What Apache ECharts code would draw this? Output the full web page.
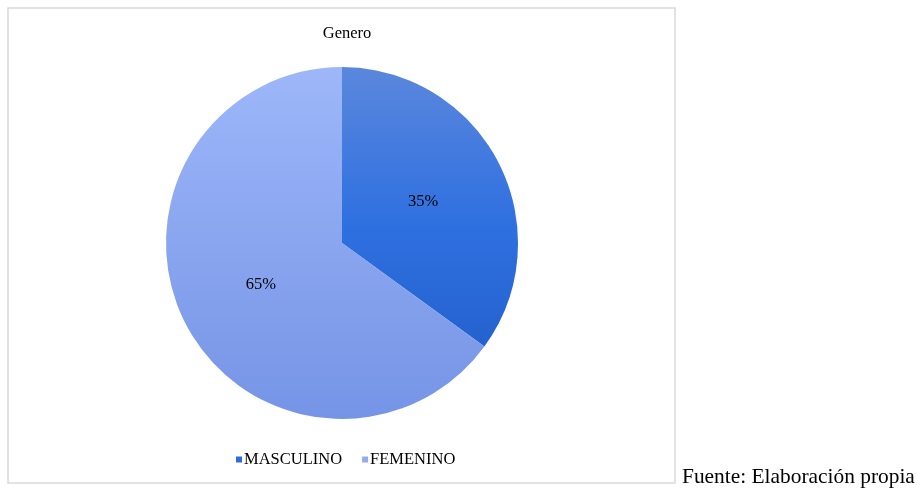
<!DOCTYPE html>
<html>
<head>
<meta charset="utf-8">
<script src="https://cdn.jsdelivr.net/npm/echarts@6/dist/echarts.min.js"></script>
<style>
  html, body { margin: 0; padding: 0; background: #ffffff; }
  #chart { width: 917px; height: 489px; }
</style>
</head>
<body>
<div id="chart"></div>
<script>
const TITLE = 'Genero';
const CATEGORIES = ['MASCULINO', 'FEMENINO'];
const VALUES = [35, 65];
const SOURCE_NOTE = 'Fuente: Elaboración propia';

const SERIF = '"Liberation Serif", "DejaVu Serif", serif';

// degradado vertical de cada porción, en coordenadas de la página
const CX = 342;
const CY = 243;
const R = 176;
function grad(top, bottom) {
  return new echarts.graphic.LinearGradient(0, CY - R, 0, CY + R, [
    { offset: 0, color: top },
    { offset: 1, color: bottom }
  ], true);
}
const FILLS = [
  new echarts.graphic.LinearGradient(0, CY - R, 0, CY + R * 0.62, [
    { offset: 0, color: '#5b87dd' },
    { offset: 0.55, color: '#2f70e0' },
    { offset: 1, color: '#2461cf' }
  ], true),
  grad('#9db7f9', '#7694e6')
];
const LEGEND_COLORS = ['#2d6ddc', '#92adf5'];

const chart = echarts.init(document.getElementById('chart'));

chart.setOption({
  animation: false,
  backgroundColor: '#ffffff',
  title: {
    text: TITLE,
    left: CX,
    textAlign: 'center',
    top: 20,
    textStyle: { fontFamily: SERIF, fontSize: 16.5, fontWeight: 'normal', color: '#000000' }
  },
  legend: {
    data: CATEGORIES.map((name, i) => ({ name, itemStyle: { color: LEGEND_COLORS[i] } })),
    left: 231,
    top: 446,
    icon: 'rect',
    itemWidth: 6,
    itemHeight: 6,
    itemGap: 20,
    textStyle: { fontFamily: SERIF, fontSize: 16.5, color: '#000000', padding: [0, 0, 0, -3] }
  },
  graphic: [
    {
      type: 'rect',
      shape: { x: 8, y: 8, width: 667, height: 475 },
      style: { fill: 'none', stroke: '#d9d9d9', lineWidth: 1.5 },
      silent: true
    },
    {
      type: 'text',
      left: 682,
      top: 467,
      style: { text: SOURCE_NOTE, fontFamily: SERIF, fontSize: 21.4, fill: '#000000' }
    }
  ],
  series: [
    {
      type: 'pie',
      center: [CX, CY],
      radius: R,
      startAngle: 90,
      clockwise: true,
      silent: true,
      data: CATEGORIES.map((name, i) => ({
        name,
        value: VALUES[i],
        itemStyle: { color: FILLS[i] }
      })),
      label: {
        position: 'inside',
        formatter: '{c}%',
        fontFamily: SERIF,
        fontSize: 16.5,
        color: '#000000'
      },
      labelLine: { show: false },
      itemStyle: { borderWidth: 0 }
    }
  ]
});
</script>
</body>
</html>
